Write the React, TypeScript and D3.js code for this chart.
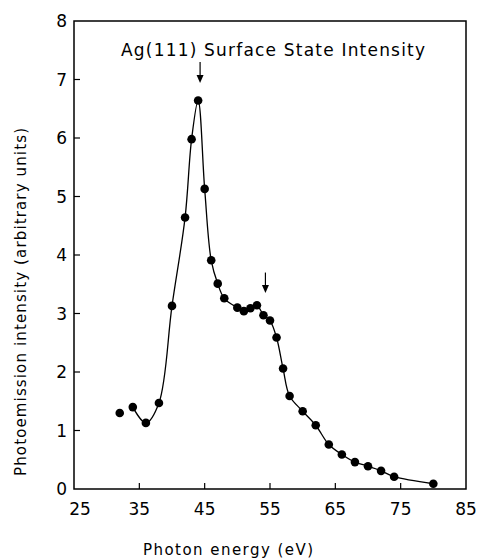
import React from 'react';
import * as d3 from 'd3';

// photon energy (eV) and surface state intensity (arb. units)
const energy = [32, 34, 36, 38, 40, 42, 43, 44, 45, 46, 47, 48, 50, 51, 52, 53, 54, 55, 56, 57, 58, 60, 62, 64, 66, 68, 70, 72, 74, 80];
const intensity = [1.3, 1.4, 1.13, 1.47, 3.13, 4.64, 5.98, 6.64, 5.13, 3.91, 3.51, 3.26, 3.1, 3.04, 3.09, 3.14, 2.97, 2.88, 2.59, 2.06, 1.59, 1.33, 1.09, 0.76, 0.59, 0.46, 0.39, 0.31, 0.21, 0.09];
const xTicks = [25, 35, 45, 55, 65, 75, 85];
const yTicks = [0, 1, 2, 3, 4, 5, 6, 7, 8];
// the two arrows marking the peaks
const arrowEnergy = [44.3, 54.3];
const arrowTop = [7.3, 3.7];
const arrowTip = [6.94, 3.35];
const curveFrom = 34; // fitted line starts here

const W = 478;
const H = 560;
const font = "'DejaVu Sans', sans-serif";

export default function App() {
  const x = d3.scaleLinear().domain([25, 85]).range([74, 466]);
  const y = d3.scaleLinear().domain([0, 8]).range([489, 21]);

  const pts = energy.map((e, i) => ({ e, v: intensity[i] }));
  const line = d3
    .line<{ e: number; v: number }>()
    .x(d => x(d.e))
    .y(d => y(d.v))
    .curve(d3.curveCatmullRom.alpha(0.5));

  const [x0, x1] = x.range();
  const [y0, y1] = y.range();

  return (
    <svg width={W} height={H} style={{ position: 'absolute', left: 0, top: 0, background: '#fff' }}>
      {/* frame */}
      <rect x={x0} y={y1} width={x1 - x0} height={y0 - y1} fill="none" stroke="#000" strokeWidth={1.5} />

      {/* y ticks, pointing inward */}
      {yTicks.map(t => (
        <g key={'y' + t}>
          {t > 0 && t < 8 && <line x1={x0} x2={x0 + 6} y1={y(t)} y2={y(t)} stroke="#000" strokeWidth={1.2} />}
          <text x={67} y={y(t)} dy="0.36em" textAnchor="end" fontFamily={font} fontSize={17}>
            {t}
          </text>
        </g>
      ))}

      {/* x ticks */}
      {xTicks.map(t => (
        <g key={'x' + t}>
          {t > 25 && t < 85 && <line x1={x(t)} x2={x(t)} y1={y0} y2={y0 - 6} stroke="#000" strokeWidth={1.2} />}
          <text x={t === 25 ? x(t) + 6 : x(t)} y={515} textAnchor="middle" fontFamily={font} fontSize={17}>
            {t}
          </text>
        </g>
      ))}

      {/* axis titles */}
      <text x={228} y={555} textAnchor="middle" fontFamily={font} fontSize={15} textLength={170} lengthAdjust="spacing">
        Photon energy (eV)
      </text>
      <text
        transform={`translate(26,${302}) rotate(-90)`}
        textAnchor="middle"
        fontFamily={font}
        fontSize={15}
        textLength={348}
        lengthAdjust="spacing"
      >
        Photoemission intensity (arbitrary units)
      </text>

      {/* chart title */}
      <text x={273} y={56} textAnchor="middle" fontFamily={font} fontSize={17} textLength={304} lengthAdjust="spacing">
        Ag(111) Surface State Intensity
      </text>

      {/* fitted curve */}
      <path d={line(pts.filter(p => p.e >= curveFrom)) || ''} fill="none" stroke="#000" strokeWidth={1.3} />

      {/* data points */}
      {pts.map((p, i) => (
        <circle key={i} cx={x(p.e)} cy={y(p.v)} r={4.3} fill="#000" />
      ))}

      {/* arrows */}
      {arrowEnergy.map((e, i) => {
        const ax = x(e);
        const tip = y(arrowTip[i]);
        return (
          <g key={'a' + i}>
            <line x1={ax} x2={ax} y1={y(arrowTop[i])} y2={tip - 6} stroke="#000" strokeWidth={1.2} />
            <path d={`M${ax - 3.5},${tip - 8}L${ax + 3.5},${tip - 8}L${ax},${tip}Z`} fill="#000" />
          </g>
        );
      })}
    </svg>
  );
}
